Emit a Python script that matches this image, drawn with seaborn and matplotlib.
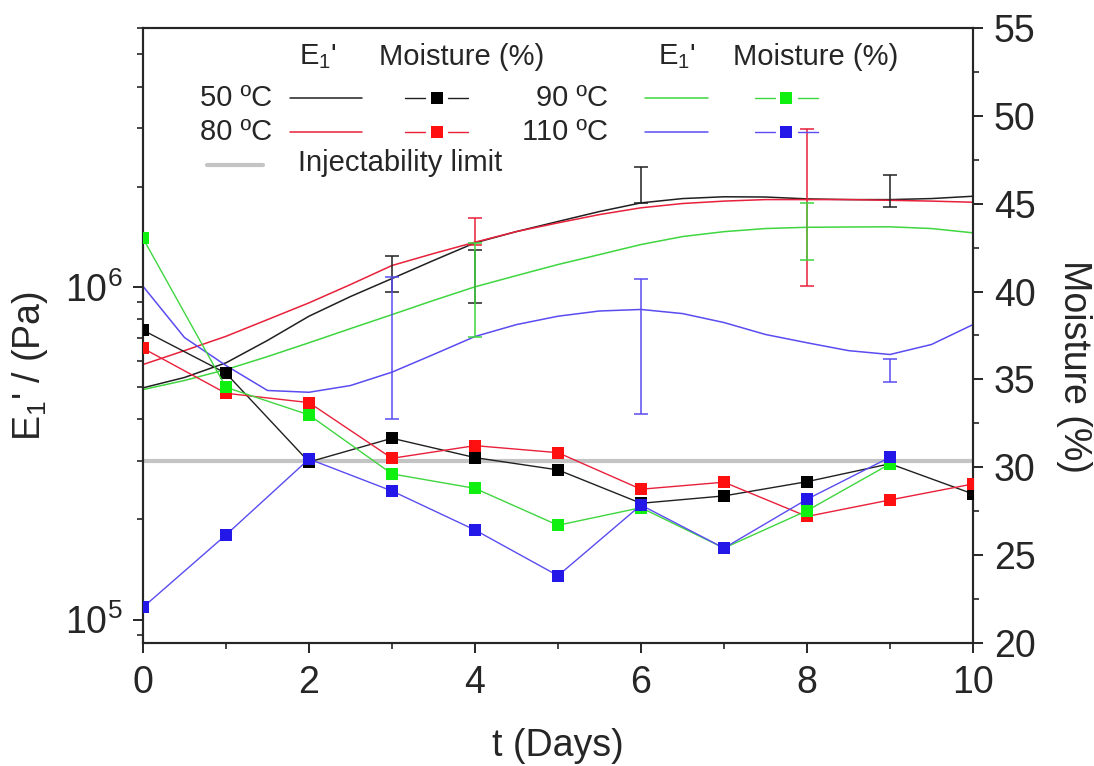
import matplotlib
matplotlib.use("Agg")
import numpy as np
import pandas as pd
import matplotlib.pyplot as plt
import seaborn as sns
from matplotlib.ticker import MultipleLocator, LogLocator, NullFormatter
from matplotlib.lines import Line2D

# ---------------- data ----------------
days = [0, 1, 2, 3, 4, 5, 6, 7, 8, 9, 10]
days_short = [0, 1, 2, 3, 4, 5, 6, 7, 8, 9]

# moisture content (%) measured each day
moist_50 = [37.8, 35.35, 30.3, 31.65, 30.55, 29.85, 27.95, 28.37, 29.18, 30.2, 28.48]
moist_80 = [36.77, 34.21, 33.68, 30.51, 31.23, 30.83, 28.75, 29.15, 27.2, 28.14, 29.05]
moist_90 = [43.03, 34.55, 32.98, 29.62, 28.8, 26.7, 27.7, 25.4, 27.53, 30.19]
moist_110 = [22.03, 26.15, 30.47, 28.65, 26.43, 23.83, 27.85, 25.4, 28.18, 30.57]

# smoothed storage modulus E1' (Pa) trends
fit_days = [0, 0.5, 1, 1.5, 2, 2.5, 3, 3.5, 4, 4.5, 5, 5.5, 6, 6.5, 7, 7.5, 8, 8.5, 9, 9.5, 10]
e1_50 = [4.97e5, 5.34e5, 5.91e5, 6.90e5, 8.16e5, 9.35e5, 1.059e6, 1.20e6, 1.356e6, 1.466e6, 1.572e6,
         1.684e6, 1.788e6, 1.842e6, 1.865e6, 1.862e6, 1.838e6, 1.829e6, 1.829e6, 1.842e6, 1.872e6]
e1_80 = [5.84e5, 6.43e5, 7.10e5, 7.97e5, 8.95e5, 1.016e6, 1.159e6, 1.259e6, 1.362e6, 1.466e6, 1.557e6,
         1.649e6, 1.728e6, 1.780e6, 1.810e6, 1.829e6, 1.829e6, 1.829e6, 1.820e6, 1.810e6, 1.796e6]
e1_90 = [4.91e5, 5.23e5, 5.64e5, 6.17e5, 6.79e5, 7.49e5, 8.25e5, 9.10e5, 1.0e6, 1.081e6, 1.167e6,
         1.250e6, 1.340e6, 1.416e6, 1.465e6, 1.497e6, 1.510e6, 1.513e6, 1.515e6, 1.497e6, 1.453e6]
e1_110 = [1.004e6, 7.04e5, 5.80e5, 4.88e5, 4.82e5, 5.05e5, 5.54e5, 6.26e5, 7.09e5, 7.70e5, 8.16e5,
          8.46e5, 8.55e5, 8.31e5, 7.81e5, 7.19e5, 6.79e5, 6.43e5, 6.26e5, 6.71e5, 7.70e5]

# E1' scatter ranges (low / high, Pa)
err_days_50 = [3, 4, 6, 9]
err_lo_50 = [9.63e5, 8.95e5, 1.788e6, 1.740e6]
err_hi_50 = [1.236e6, 1.286e6, 2.295e6, 2.175e6]
err_days_80 = [4, 8]
err_lo_80 = [1.340e6, 1.009e6]
err_hi_80 = [1.612e6, 2.985e6]
err_days_90 = [4, 8]
err_lo_90 = [7.09e5, 1.208e6]
err_hi_90 = [1.359e6, 1.788e6]
err_days_110 = [3, 6, 9]
err_lo_110 = [4.01e5, 4.16e5, 5.17e5]
err_hi_110 = [1.067e6, 1.057e6, 6.05e5]

injectability_limit = 3e5  # Pa

temperatures = ["50 ºC", "80 ºC", "90 ºC", "110 ºC"]

# ---------------- style ----------------
sns.set_style("ticks")
plt.rcParams["font.family"] = ["Liberation Sans", "DejaVu Sans"]
plt.rcParams["mathtext.default"] = "regular"
plt.rcParams["mathtext.fontset"] = "custom"
plt.rcParams["mathtext.rm"] = "Liberation Sans"
plt.rcParams["axes.linewidth"] = 1.5

curve_colors = ["#202020", "#e8203a", "#3fd63f", "#5a4cf0"]
square_colors = ["#000000", "#ff1010", "#10f010", "#2418e8"]
limit_color = "#c4c4c4"

TICK_FS = 27
LABEL_FS = 27
LEG_FS = 21

fig = plt.figure(figsize=(10.94, 7.66), dpi=100)
ax = fig.add_axes([0.1307, 0.1606, 0.7587, 0.8029])
ax.set_yscale("log")

# injectability threshold
ax.axhline(injectability_limit, color=limit_color, lw=3, zorder=1)

fit_sets = [e1_50, e1_80, e1_90, e1_110]
for vals, col in zip(fit_sets, curve_colors):
    sns.lineplot(x=fit_days, y=vals, ax=ax, color=col, lw=1.1, legend=False, zorder=3)

err_sets = [(err_days_50, err_lo_50, err_hi_50), (err_days_80, err_lo_80, err_hi_80),
            (err_days_90, err_lo_90, err_hi_90), (err_days_110, err_lo_110, err_hi_110)]
for (ed, lo, hi), col in zip(err_sets, curve_colors):
    lo = np.array(lo)
    hi = np.array(hi)
    mid = np.sqrt(lo * hi)
    ax.errorbar(ed, mid, yerr=[mid - lo, hi - mid], fmt="none", ecolor=col,
                elinewidth=1.1, capsize=5, capthick=1.1, zorder=3)

ax.set_xlim(0, 10)
ax.set_ylim(8.5e4, 6.0e6)
ax.xaxis.set_major_locator(MultipleLocator(2))
ax.xaxis.set_minor_locator(MultipleLocator(1))
ax.yaxis.set_major_locator(LogLocator(base=10))
ax.yaxis.set_minor_locator(LogLocator(base=10, subs=np.arange(2, 10)))
ax.yaxis.set_minor_formatter(NullFormatter())
ax.tick_params(axis="both", which="major", direction="out", length=7, width=1.4,
               labelsize=TICK_FS, right=False, top=False)
ax.tick_params(axis="both", which="minor", direction="out", length=4, width=1.2,
               right=False, top=False)
ax.tick_params(axis="x", which="major", pad=9)
ax.tick_params(axis="y", which="major", pad=8)
ax.set_xlabel("t (Days)", fontsize=LABEL_FS, labelpad=19)
ax.set_ylabel("E$_1$' / (Pa)", fontsize=LABEL_FS)
ax.yaxis.set_label_coords(-0.112, 0.45)

# moisture on the secondary axis
ax2 = ax.twinx()
moist_sets = [(days, moist_50), (days, moist_80), (days_short, moist_90), (days_short, moist_110)]
for (d, vals), col, sq in zip(moist_sets, curve_colors, square_colors):
    sns.lineplot(x=d, y=vals, ax=ax2, color=col, lw=1.0, legend=False,
                 marker="s", markersize=8, markerfacecolor=sq, markeredgewidth=0, zorder=4)
ax2.set_ylim(20, 55)
ax2.yaxis.set_major_locator(MultipleLocator(5))
ax2.yaxis.set_minor_locator(MultipleLocator(2.5))
ax2.tick_params(axis="y", which="major", direction="out", length=7, width=1.4,
                labelsize=TICK_FS, pad=8)
ax2.tick_params(axis="y", which="minor", direction="out", length=4, width=1.2)
ax2.set_ylabel("Moisture (%)", fontsize=LABEL_FS, rotation=270)
ax2.yaxis.set_label_coords(1.143, 0.45)
for sp in ax2.spines.values():
    sp.set_linewidth(1.5)

# ---------------- key ----------------
T = ax2.transAxes
def key_line(x0, x1, y, col, lw=1.1):
    ax2.add_line(Line2D([x0, x1], [y, y], color=col, lw=lw, transform=T, clip_on=False))

def key_square(x0, x1, y, col, sq):
    xc = (x0 + x1) / 2
    gap = 0.014
    key_line(x0, xc - gap, y, col, 1.0)
    key_line(xc + gap, x1, y, col, 1.0)
    ax2.add_line(Line2D([xc], [y], marker="s", markersize=8, markerfacecolor=sq,
                        markeredgewidth=0, color=col, transform=T, clip_on=False))

for hx_e, hx_m in [(0.211, 0.384), (0.643, 0.810)]:
    ax2.text(hx_e, 0.953, "E$_1$'", transform=T, fontsize=LEG_FS, ha="center", va="center")
    ax2.text(hx_m, 0.953, "Moisture (%)", transform=T, fontsize=LEG_FS, ha="center", va="center")

rows = [0.886, 0.831]
left_cols = dict(text=0.155, line=(0.177, 0.264), sq=(0.316, 0.392))
right_cols = dict(text=0.560, line=(0.605, 0.681), sq=(0.737, 0.813))
for i in range(4):
    cols = left_cols if i < 2 else right_cols
    y = rows[i % 2]
    ax2.text(cols["text"], y, temperatures[i], transform=T, fontsize=LEG_FS, ha="right", va="center")
    key_line(cols["line"][0], cols["line"][1], y, curve_colors[i])
    key_square(cols["sq"][0], cols["sq"][1], y, curve_colors[i], square_colors[i])

key_line(0.077, 0.145, 0.777, limit_color, 3)
ax2.text(0.187, 0.780, "Injectability limit", transform=T, fontsize=LEG_FS, ha="left", va="center")

fig.savefig("out.png", dpi=100)
